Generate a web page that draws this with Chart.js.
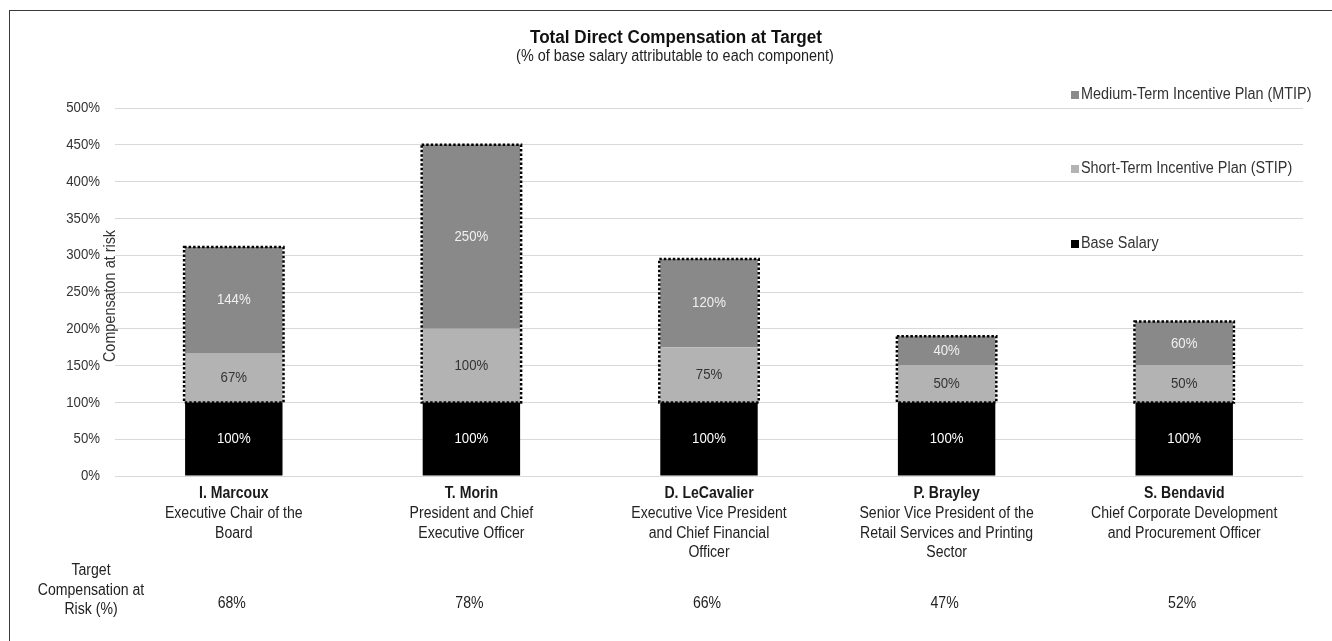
<!DOCTYPE html>
<html>
<head>
<meta charset="utf-8">
<title>Total Direct Compensation at Target</title>
<script src="https://cdn.jsdelivr.net/npm/chart.js@4.4.1/dist/chart.umd.min.js"></script>
<style>
  html, body { margin: 0; padding: 0; background: #fff; overflow: hidden; }
  #wrap { position: relative; width: 1332px; height: 641px; }
  #frame { position: absolute; left: 9px; top: 10px; width: 1340px; height: 660px; border: 1.5px solid #3a3a3a; box-sizing: border-box; }
  canvas { position: absolute; left: 0; top: 0; }
</style>
</head>
<body>
<div id="wrap">
  <div id="frame"></div>
  <canvas id="compChart" width="1332" height="641"></canvas>
</div>
<script>
const FONT = "'Liberation Sans', Arial, sans-serif";
const NARROW = 0.88; // squeeze to look like Arial Narrow

const names = ["I. Marcoux", "T. Morin", "D. LeCavalier", "P. Brayley", "S. Bendavid"];
const roles = [
  ["Executive Chair of the", "Board"],
  ["President and Chief", "Executive Officer"],
  ["Executive Vice President", "and Chief Financial", "Officer"],
  ["Senior Vice President of the", "Retail Services and Printing", "Sector"],
  ["Chief Corporate Development", "and Procurement Officer"],
];
const baseSalary = [100, 100, 100, 100, 100];
const stip = [67, 100, 75, 50, 50];
const mtip = [144, 250, 120, 40, 60];
const atRisk = [68, 78, 66, 47, 52];
const yTicks = [0, 50, 100, 150, 200, 250, 300, 350, 400, 450, 500];

function text(ctx, str, x, y, font, color, align, squeeze) {
  ctx.save();
  ctx.translate(x, y);
  ctx.scale(squeeze || NARROW, 1);
  ctx.font = font;
  ctx.fillStyle = color;
  ctx.textAlign = align || "center";
  ctx.textBaseline = "middle";
  ctx.fillText(str, 0, 0);
  ctx.restore();
}

const decorations = {
  id: "decorations",
  afterDatasetsDraw(chart) {
    const ctx = chart.ctx;
    const area = chart.chartArea;
    const ys = chart.scales.y;
    const xs = chart.scales.x;
    const textCols = ["#ffffff", "#333333", "#f0f0f0"];

    // y tick labels
    yTicks.forEach(v => {
      text(ctx, v + "%", 100, ys.getPixelForValue(v), "15px " + FONT, "#333", "right");
    });

    // values inside the segments
    chart.data.datasets.forEach((ds, i) => {
      chart.getDatasetMeta(i).data.forEach((el, j) => {
        text(ctx, ds.data[j] + "%", el.x, (el.y + el.base) / 2, "15px " + FONT, textCols[i]);
      });
    });

    // dotted outline around STIP + MTIP
    const stipMeta = chart.getDatasetMeta(1).data;
    const mtipMeta = chart.getDatasetMeta(2).data;
    ctx.save();
    ctx.strokeStyle = "#000";
    ctx.lineWidth = 2.5;
    ctx.setLineDash([2.5, 2]);
    stipMeta.forEach((el, j) => {
      const top = mtipMeta[j].y;
      const half = el.width / 2 + 1;
      ctx.strokeRect(el.x - half, top, half * 2, el.base - top);
    });
    ctx.restore();

    // category labels
    names.forEach((n, j) => {
      const x = xs.getPixelForValue(j);
      text(ctx, n, x, 494, "bold 16px " + FONT, "#1a1a1a");
      roles[j].forEach((line, k) => {
        text(ctx, line, x, 514 + k * 19.5, "16px " + FONT, "#222");
      });
      text(ctx, atRisk[j] + "%", x - 2, 604, "16px " + FONT, "#222");
    });
    ["Target", "Compensation at", "Risk (%)"].forEach((line, k) => {
      text(ctx, line, 91, 571 + k * 19.5, "16px " + FONT, "#222");
    });

    // y axis title between tick labels and plot
    ctx.save();
    ctx.translate(area.left - 4, (area.top + area.bottom) / 2 + 4);
    ctx.rotate(-Math.PI / 2);
    text(ctx, "Compensaton at risk", 0, 0, "16px " + FONT, "#333", "center", 0.9);
    ctx.restore();

    // title
    text(ctx, "Total Direct Compensation at Target", 676, 38, "bold 18px " + FONT, "#111", "center", 0.95);
    text(ctx, "(% of base salary attributable to each component)", 675, 57, "16px " + FONT, "#222", "center", 0.9);

    // legend
    const legend = [
      ["Medium-Term Incentive Plan (MTIP)", 95, 2],
      ["Short-Term Incentive Plan (STIP)", 169, 1],
      ["Base Salary", 244, 0],
    ];
    legend.forEach(([txt, y, di]) => {
      ctx.fillStyle = chart.data.datasets[di].backgroundColor;
      ctx.fillRect(1071, y - 4, 8, 8);
      text(ctx, txt, 1081, y, "16px " + FONT, "#333", "left", 0.9);
    });
  },
};

const ctx = document.getElementById("compChart").getContext("2d");
new Chart(ctx, {
  type: "bar",
  data: {
    labels: names,
    datasets: [
      { label: "Base Salary", data: baseSalary, backgroundColor: "#000000" },
      { label: "Short-Term Incentive Plan (STIP)", data: stip, backgroundColor: "#b3b3b3" },
      { label: "Medium-Term Incentive Plan (MTIP)", data: mtip, backgroundColor: "#898989" },
    ],
  },
  options: {
    responsive: false,
    animation: false,
    events: [],
    layout: { padding: { left: 0, top: 108, right: 29, bottom: 165 } },
    datasets: {
      bar: { barPercentage: 0.41, categoryPercentage: 1, borderWidth: 0 },
    },
    plugins: {
      legend: { display: false },
      tooltip: { enabled: false },
    },
    scales: {
      x: {
        stacked: true,
        grid: { display: false },
        border: { display: false },
        ticks: { display: false },
        afterFit(scale) { scale.height = 0; },
      },
      y: {
        stacked: true,
        min: 0,
        max: 500,
        afterBuildTicks(scale) { scale.ticks = yTicks.map(v => ({ value: v })); },
        afterFit(scale) { scale.width = 115; },
        grid: { color: "#d9d9d9", lineWidth: 1, drawTicks: false },
        border: { display: false },
        ticks: { display: false },
      },
    },
  },
  plugins: [decorations],
});
</script>
</body>
</html>
